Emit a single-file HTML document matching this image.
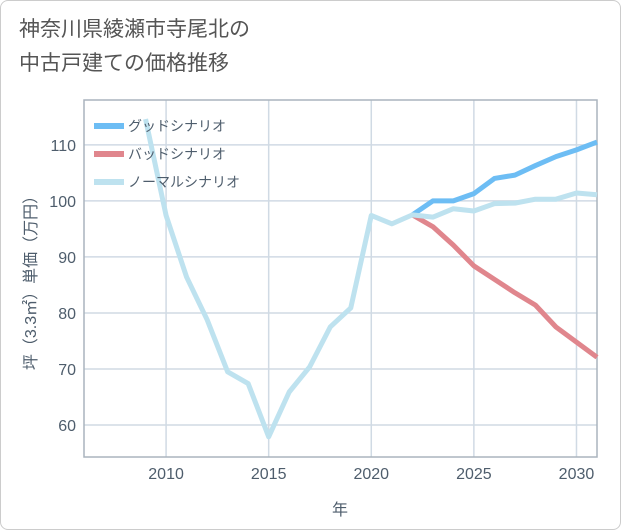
<!DOCTYPE html>
<html><head><meta charset="utf-8"><style>
body{margin:0;background:#fff;}
.wrap{position:relative;width:619px;height:528px;border:1px solid #ccc;border-radius:8px;overflow:hidden;background:#fff;font-family:"Liberation Sans","Noto Sans CJK JP",sans-serif;}
.title{position:absolute;left:18px;top:12px;font-size:21px;line-height:34px;color:#555;}
</style></head><body>
<div class="wrap">
<div class="title">神奈川県綾瀬市寺尾北の<br>中古戸建ての価格推移</div>
<svg id="chart" width="621" height="530" style="position:absolute;left:-1px;top:-1px"></svg>
</div>
<script>
const years=[2009,2010,2011,2012,2013,2014,2015,2016,2017,2018,2019,2020,2021,2022,2023,2024,2025,2026,2027,2028,2029,2030,2031];
const normal=[114.6,97.4,86.4,78.8,69.5,67.4,57.9,65.9,70.4,77.5,80.9,97.4,95.9,97.5,97.1,98.6,98.2,99.5,99.6,100.3,100.3,101.4,101.1];
const goodYears=[2022,2023,2024,2025,2026,2027,2028,2029,2030,2031];
const good=[97.5,100,100,101.3,104,104.6,106.3,107.9,109.1,110.5];
const bad=[97.5,95.4,92.1,88.4,86,83.6,81.4,77.5,74.8,72.1];
const xTicks=[2010,2015,2020,2025,2030];
const yTicks=[60,70,80,90,100,110];
const X0=84,X1=597,Y0=100,Y1=457,xmin=2006,xmax=2031,ymin=54.3,ymax=118;
const TXT='#4e5d6c';
const xs=v=>X0+(v-xmin)/(xmax-xmin)*(X1-X0);
const ys=v=>Y1-(v-ymin)/(ymax-ymin)*(Y1-Y0);
const svg=document.getElementById('chart');const NS='http://www.w3.org/2000/svg';
function mk(t,a){const e=document.createElementNS(NS,t);for(const k in a)e.setAttribute(k,a[k]);svg.appendChild(e);return e;}
for(const t of yTicks){
 const l=mk('line',{x1:X0,x2:X1,y1:ys(t),y2:ys(t),stroke:'#d0dae4','stroke-width':1.5});
 
 
 const tx=mk('text',{x:X0-8,y:ys(t)+6,'text-anchor':'end','font-size':16,fill:TXT});tx.textContent=t;
 
 
}
for(const t of xTicks){
 const l=mk('line',{x1:xs(t),x2:xs(t),y1:Y0,y2:Y1,stroke:'#d0dae4','stroke-width':1.5});
 
 
 const tx=mk('text',{x:xs(t),y:Y1+22,'text-anchor':'middle','font-size':16,fill:TXT});tx.textContent=t;
 
 
}
const fr=mk('rect',{x:X0,y:Y0,width:X1-X0,height:Y1-Y0,fill:'none',stroke:'#aab4bd','stroke-width':1.5});


function line(xv,yv,c,name){const p=mk('polyline',{points:xv.map((x,i)=>xs(x)+','+ys(yv[i])).join(' '),fill:'none',stroke:c,'stroke-width':5,'stroke-linejoin':'round'});
 
 }
line(goodYears,bad,'#e0868d','bad-scenario-line');
line(goodYears,good,'#6dbdf4','good-scenario-line');
line(years,normal,'#bee2ef','normal-scenario-line');
const leg=[['グッドシナリオ','#6dbdf4'],['バッドシナリオ','#e0868d'],['ノーマルシナリオ','#bee2ef']];
leg.forEach((d,i)=>{const y=126+i*28;
 const r=mk('rect',{x:94,y:y-3,width:30,height:6,fill:d[1]});
 
 
 const t=mk('text',{x:128,y:y+5,'font-size':14,fill:TXT});t.textContent=d[0];
 
 });
const xl=mk('text',{x:340,y:515,'text-anchor':'middle','font-size':16,fill:TXT});xl.textContent='年';


const yl=mk('text',{x:0,y:0,'text-anchor':'middle','font-size':16,fill:TXT,transform:'translate(36,279) rotate(-90)'});yl.textContent='坪（3.3㎡）単価（万円）';


</script>
</body></html>
